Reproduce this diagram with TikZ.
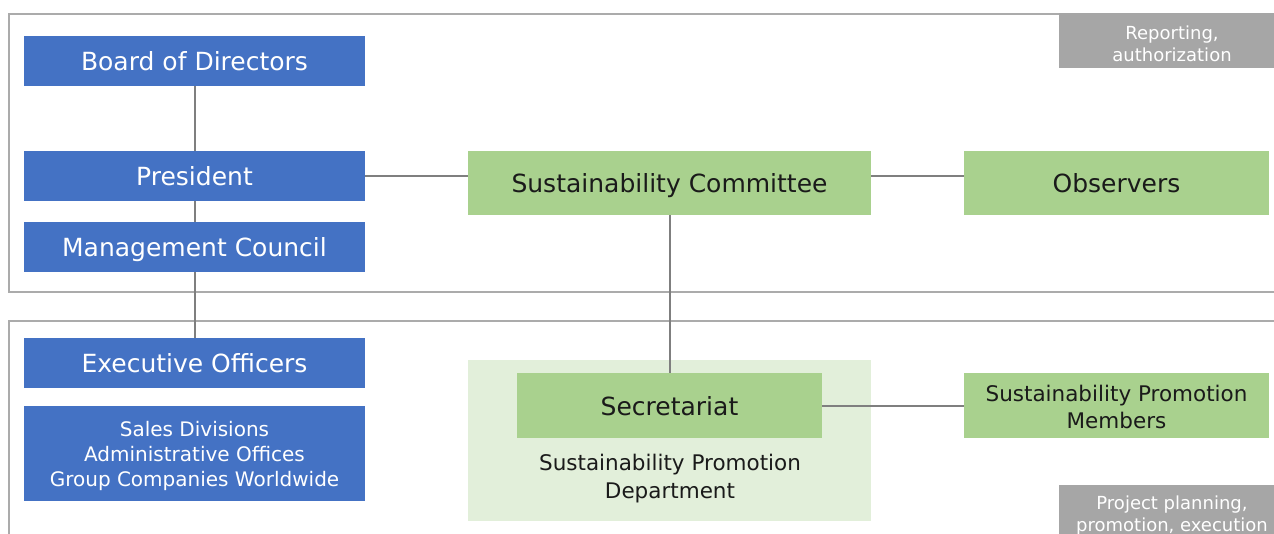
\documentclass[tikz,border=0pt]{standalone}
\usepackage{fontspec}
\setmainfont{DejaVu Sans}
\definecolor{blu}{HTML}{4472C4}
\definecolor{grn}{HTML}{A9D18E}
\definecolor{lgrn}{HTML}{E2EFDA}
\definecolor{frm}{HTML}{ABABAB}
\definecolor{lbl}{HTML}{A6A6A6}
\definecolor{cn}{HTML}{7F7F7F}
\definecolor{txt}{HTML}{1A1A1A}
\tikzset{
  x=1pt,y=-1pt,
  oneline/.style={text height=19pt,text depth=0pt},
  bluebox/.style={fill=blu,draw=none,text=white,inner sep=0pt,minimum width=341pt,minimum height=50pt,font=\fontsize{25}{28}\selectfont,align=center},
  grnbox/.style={fill=grn,draw=none,text=txt,inner sep=0pt,font=\fontsize{25}{28}\selectfont,align=center},
  frame/.style={draw=frm,line width=2.2pt},
  tagtext/.style={text=white,font=\fontsize{18}{22}\selectfont,align=center},
  conn/.style={draw=cn,line width=2pt},
}
\begin{document}
\begin{tikzpicture}
\useasboundingbox (0,0) rectangle (1274,534);
\fill[white] (0,0) rectangle (1274,534);
% frames
\draw[frame] (1290,14) -- (9,14) -- (9,292) -- (1290,292);
\draw[frame] (1290,321) -- (9,321) -- (9,560);
% tags
\fill[lbl] (1059,13) rectangle (1290,68);
\node[tagtext] (tagtop) at (1172,44) {Reporting,\\authorization};
\fill[lbl] (1059,485) rectangle (1290,560);
\node[tagtext] (tagbot) at (1172,516) {Project planning,\\promotion, execution};
% dept background
\node[fill=lgrn,draw=none,minimum width=403pt,minimum height=161pt,inner sep=0pt] (dept) at (669.5,440.5) {};
\node[text=txt,font=\fontsize{21.5}{28}\selectfont,align=center] (deptlbl) at (670,479) {Sustainability Promotion\\Department};
% blue boxes
\node[bluebox,oneline] (bod) at (194.5,61) {Board of Directors};
\node[bluebox,oneline] (pres) at (194.5,176) {President};
\node[bluebox,oneline] (mc) at (194.5,247) {Management Council};
\node[bluebox,oneline] (exec) at (194.5,363) {Executive Officers};
\node[bluebox,minimum height=95pt,font=\fontsize{20}{25}\selectfont] (sales) at (194.5,453.5) {};
\node[text=white,font=\fontsize{20}{25}\selectfont,align=center] (salestxt) at (194.5,456) {Sales Divisions\\Administrative Offices\\Group Companies Worldwide};
% green boxes
\node[grnbox,oneline,minimum width=403pt,minimum height=64pt] (sc) at (669.5,183) {Sustainability Committee};
\node[grnbox,oneline,minimum width=305pt,minimum height=64pt] (obs) at (1116.5,183) {Observers};
\node[grnbox,oneline,minimum width=305pt,minimum height=65pt] (sec) at (669.5,405.5) {Secretariat};
\node[grnbox,minimum width=305pt,minimum height=65pt] (spm) at (1116.5,405.5) {};
\node[text=txt,font=\fontsize{21.5}{27}\selectfont,align=center] (spmtxt) at (1116.5,407) {Sustainability Promotion\\Members};
% connectors
\draw[conn] (bod.south) -- (pres.north);
\draw[conn] (pres.south) -- (mc.north);
\draw[conn] (mc.south) -- (exec.north);
\draw[conn] (pres.east) -- (pres.east -| sc.west);
\draw[conn] (sc.east |- pres.east) -- (obs.west |- pres.east);
\draw[conn] (sc.south) -- (sec.north);
\draw[conn] (sec.east) -- (spm.west);
\end{tikzpicture}
\end{document}
